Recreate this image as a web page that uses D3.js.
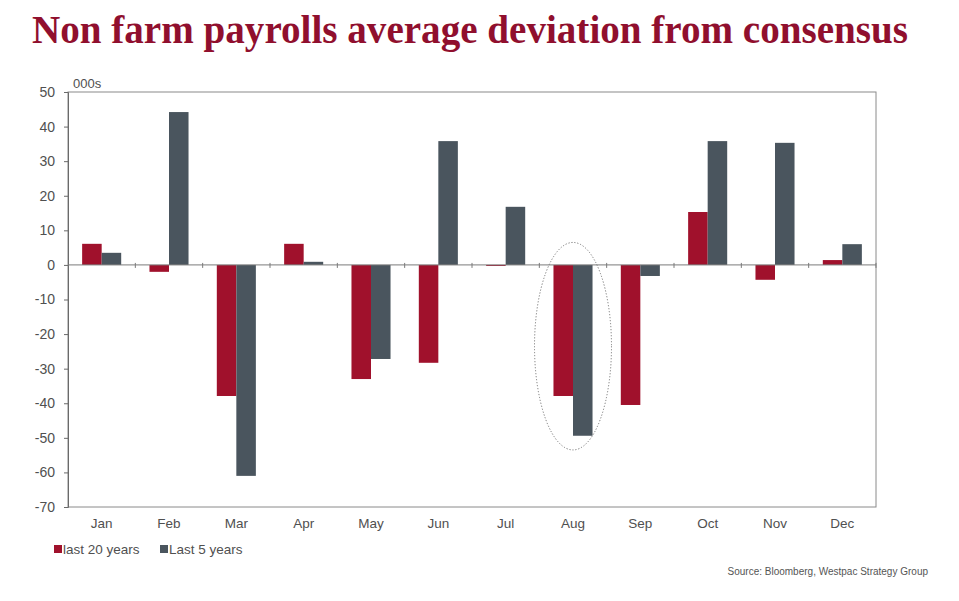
<!DOCTYPE html>
<html><head><meta charset="utf-8">
<script src="https://cdn.jsdelivr.net/npm/d3@7"></script>
<style>body{margin:0;background:#fff;}svg{display:block;}</style>
</head><body>
<script>
const months = ["Jan","Feb","Mar","Apr","May","Jun","Jul","Aug","Sep","Oct","Nov","Dec"];
const last20 = [6.1, -2, -37.9, 6.1, -33, -28.3, -0.3, -37.9, -40.5, 15.3, -4.3, 1.4];
const last5 = [3.5, 44.2, -61, 0.9, -27.2, 35.8, 16.8, -49.4, -3.2, 35.8, 35.3, 6];
const seriesNames = ["last 20 years", "Last 5 years"];
const seriesColors = ["#a0112c", "#4a555e"];
const yTicks = [50,40,30,20,10,0,-10,-20,-30,-40,-50,-60,-70];

(function(){
const W = 959, H = 601;
const svg = d3.select("body").append("svg").attr("width", W).attr("height", H);
const pL = 68, pR = 876, pT = 92, pB = 507;
const sans = "'Liberation Sans',Arial,sans-serif";

svg.append("text").attr("x", 32).attr("y", 43)
  .attr("textLength", 876).attr("lengthAdjust", "spacingAndGlyphs")
  .style("font-family", "'Liberation Serif','Times New Roman',serif")
  .style("font-weight", "bold").style("font-size", "41px").attr("fill", "#900f2e")
  .text("Non farm payrolls average deviation from consensus");

const x = d3.scaleBand().domain(months).range([pL, pR]);
const y = d3.scaleLinear().domain([-70, 50]).range([pB, pT]);
const barW = x.bandwidth() * 0.29;

svg.append("rect").attr("x", pL).attr("y", pT).attr("width", pR-pL).attr("height", pB-pT)
  .attr("fill", "none").attr("stroke", "#8a8a8a").attr("stroke-width", 1);

const yAxis = d3.axisLeft(y).tickValues(yTicks).tickSize(4).tickPadding(9).tickFormat(d => String(d));
const gy = svg.append("g").attr("transform", `translate(${pL},0)`).call(yAxis);
gy.select(".domain").attr("stroke", "#6a6a6a");
gy.selectAll(".tick line").attr("stroke", "#6a6a6a");
gy.selectAll("text").style("font-family", sans).style("font-size", "14px").attr("fill", "#505050");

svg.append("text").attr("x", 73).attr("y", 88).text("000s")
  .style("font-family", sans).style("font-size", "13px").attr("fill", "#505050");

const data = months.map((m, i) => ({m, vals: [last20[i], last5[i]]}));
const g = svg.append("g");
data.forEach(d => {
  d.vals.forEach((v, k) => {
    const cx = x(d.m) + x.bandwidth()/2;
    g.append("rect")
      .attr("x", cx - barW + k*barW)
      .attr("y", y(Math.max(0, v)))
      .attr("width", barW)
      .attr("height", Math.abs(y(v) - y(0)))
      .attr("fill", seriesColors[k]);
  });
});

svg.append("line").attr("x1", pL).attr("x2", pR).attr("y1", y(0)).attr("y2", y(0)).attr("stroke", "#7a7a7a");
months.forEach((m, i) => {
  const xx = x(m) + x.step();
  svg.append("line").attr("x1", xx).attr("x2", xx).attr("y1", y(0)-2).attr("y2", y(0)+3).attr("stroke", "#7a7a7a");
});

months.forEach(m => {
  svg.append("text").attr("x", x(m)+x.bandwidth()/2).attr("y", 528).attr("text-anchor", "middle")
    .style("font-family", sans).style("font-size", "13.5px").attr("fill", "#505050").text(m);
});

const augC = x("Aug") + x.bandwidth()/2;
svg.append("ellipse").attr("cx", augC).attr("cy", (y(6.5)+y(-53.5))/2)
  .attr("rx", 38.5).attr("ry", (y(-53.5)-y(6.5))/2)
  .attr("fill", "none").attr("stroke", "#777").attr("stroke-width", 1).attr("stroke-dasharray", "1.2,1.8");

[[54, 0], [160, 1]].forEach(([lx, k]) => {
  svg.append("rect").attr("x", lx).attr("y", 545).attr("width", 8).attr("height", 8).attr("fill", seriesColors[k]);
  svg.append("text").attr("x", lx+9).attr("y", 554)
    .style("font-family", sans).style("font-size", "13.5px").attr("fill", "#505050").text(seriesNames[k]);
});

svg.append("text").attr("x", 928).attr("y", 575).attr("text-anchor", "end")
  .style("font-family", sans).style("font-size", "10px").attr("fill", "#555")
  .text("Source: Bloomberg, Westpac Strategy Group");
})();
</script>
</body></html>
